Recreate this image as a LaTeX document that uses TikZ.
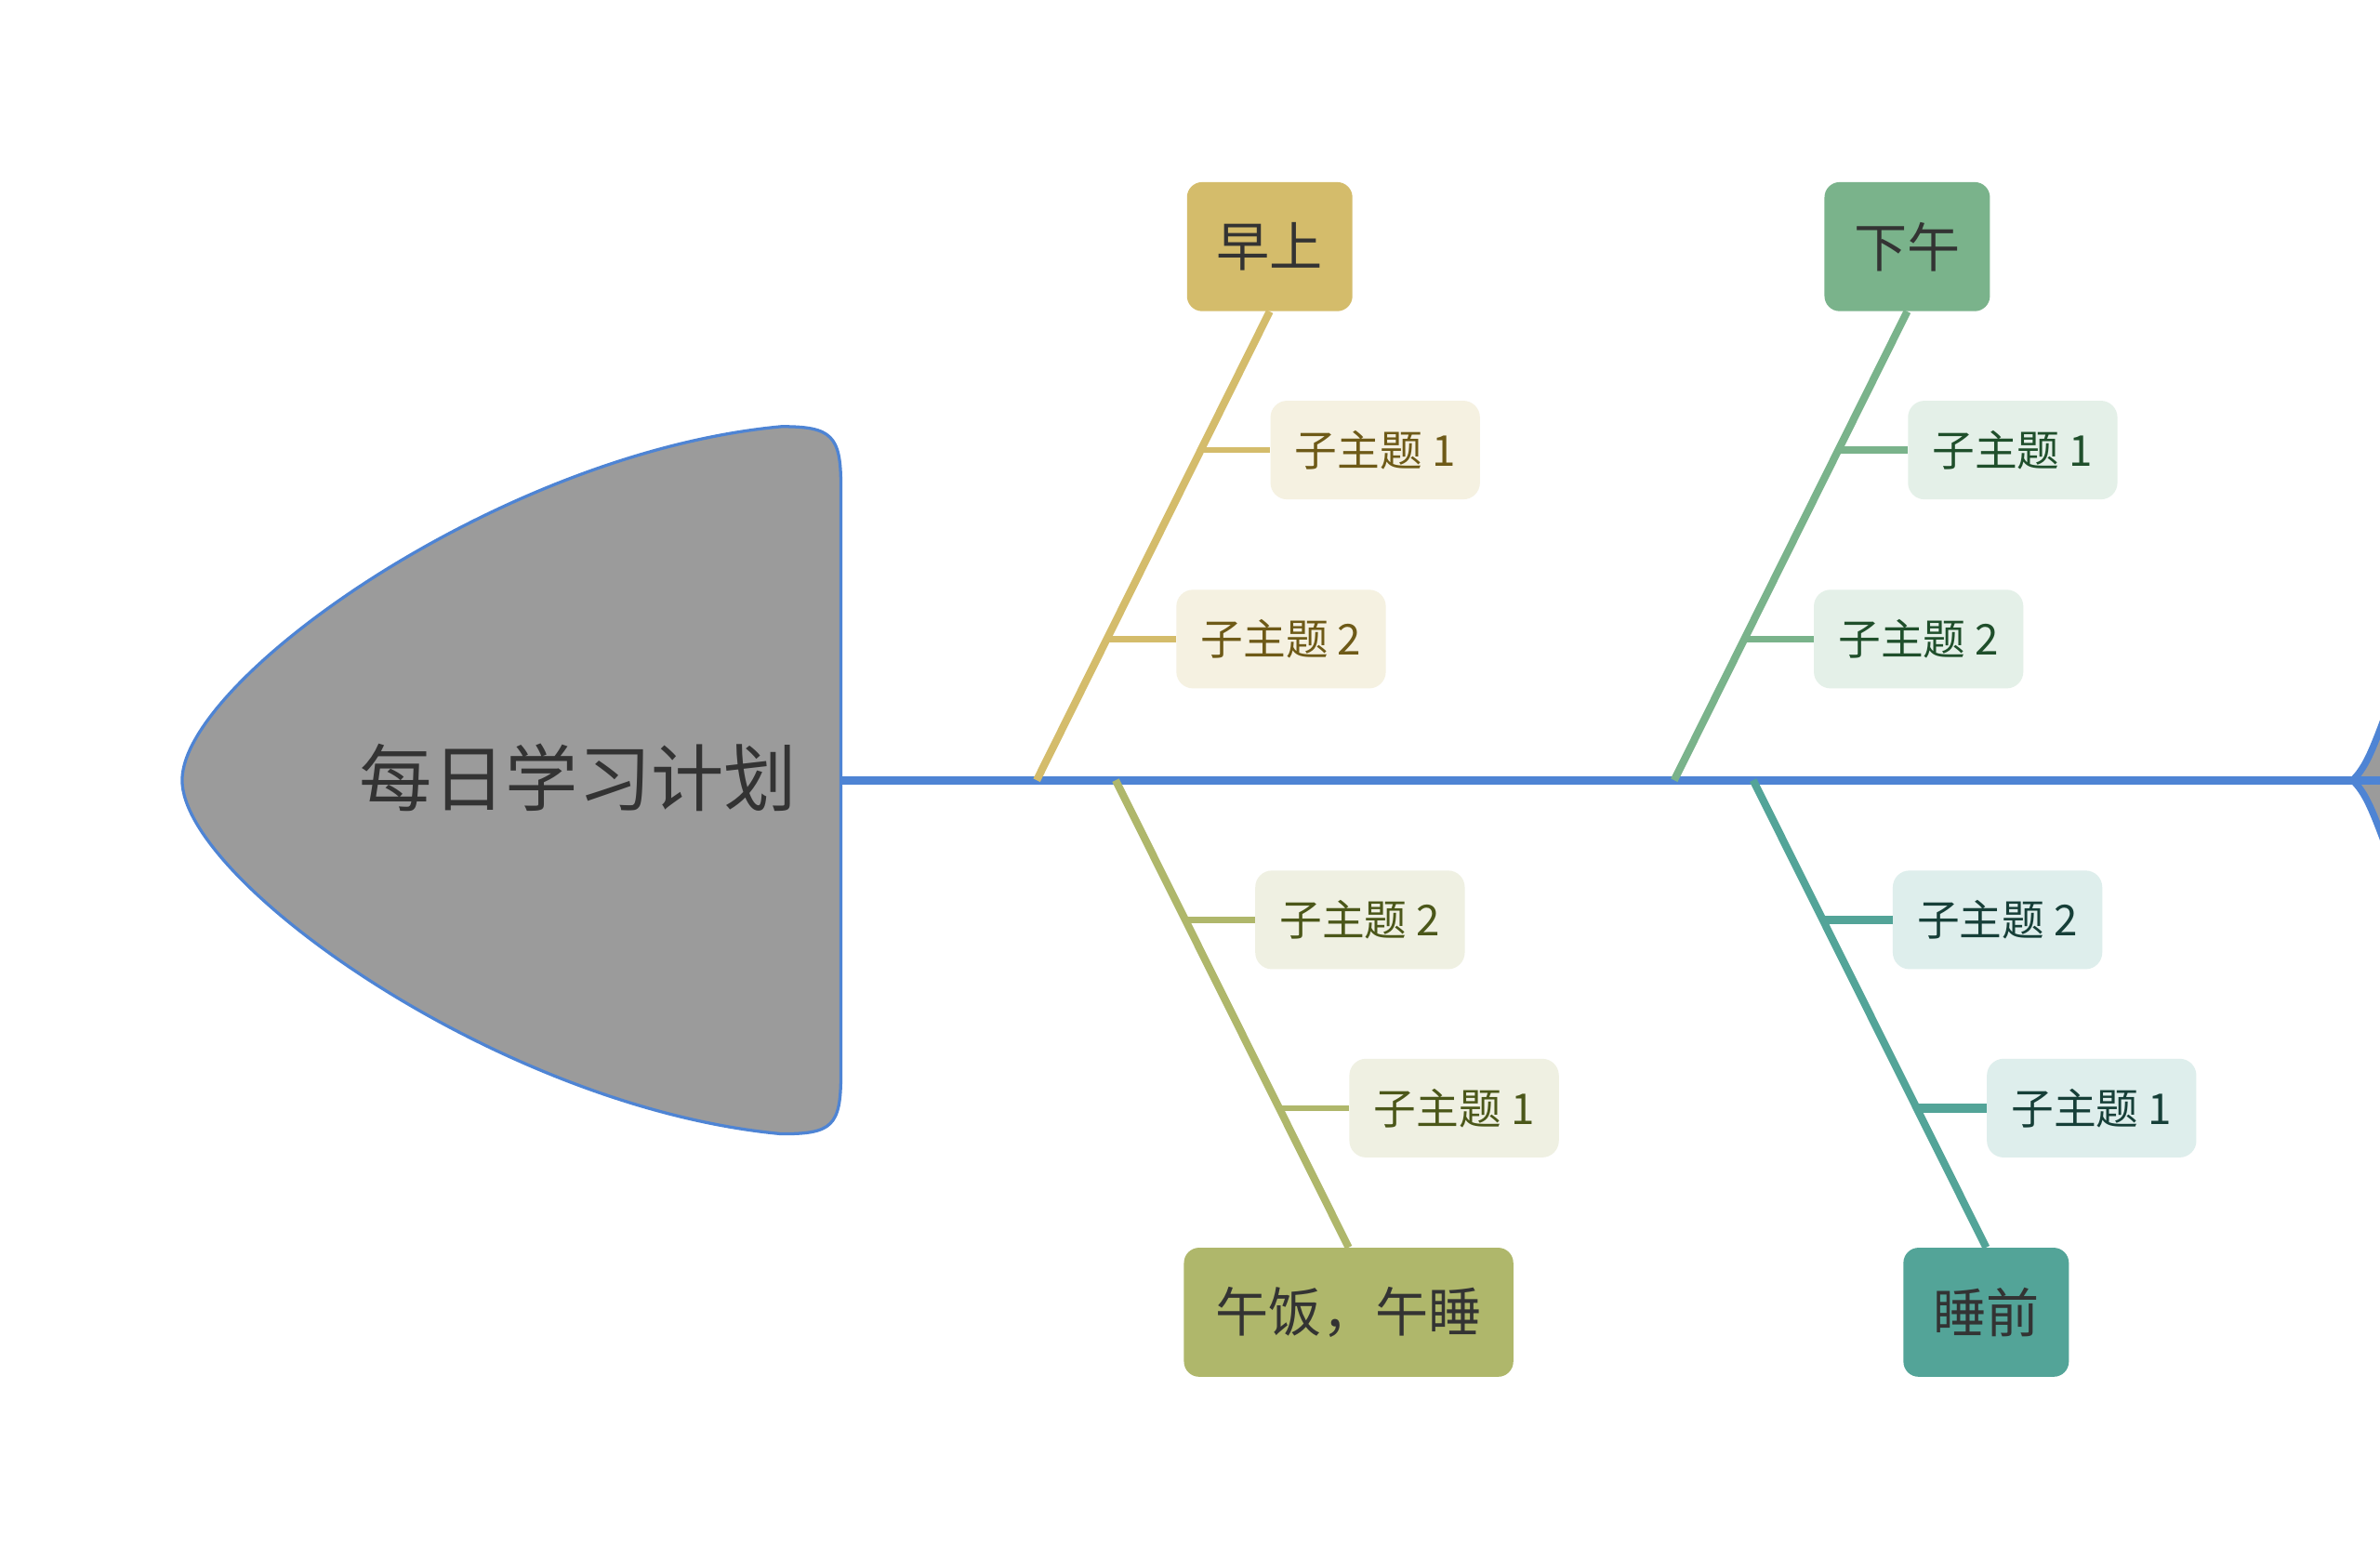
\documentclass[tikz,border=0pt]{standalone}
\usepackage{fontspec}
\setmainfont{Noto Sans CJK SC}
\usetikzlibrary{calc}

\definecolor{spineblue}{HTML}{4E84D4}
\definecolor{headgray}{HTML}{9B9B9B}
\definecolor{maintext}{HTML}{333333}
\definecolor{goldmain}{HTML}{D4BC6B}
\definecolor{goldsub}{HTML}{F5F1E1}
\definecolor{goldtext}{HTML}{6E5A17}
\definecolor{olivemain}{HTML}{AFB76B}
\definecolor{olivesub}{HTML}{EFF0E2}
\definecolor{olivetext}{HTML}{4B5719}
\definecolor{greenmain}{HTML}{7AB38B}
\definecolor{greensub}{HTML}{E4F0E8}
\definecolor{greentext}{HTML}{1F4F2B}
\definecolor{tealmain}{HTML}{53A498}
\definecolor{tealsub}{HTML}{DEEEEC}
\definecolor{tealtext}{HTML}{163F38}

\begin{document}
\begin{tikzpicture}[x=1pt,y=-1pt,
    mainbox/.style={rounded corners=10pt, minimum height=85pt, inner sep=0pt,
      text=maintext, font=\fontsize{35}{40}\selectfont},
    subbox/.style={rounded corners=11pt, minimum width=138pt, minimum height=65pt,
      inner sep=0pt, font=\fontsize{28}{34}\selectfont},
    spine/.style={draw=spineblue, line width=5.5pt},
    bone/.style={line width=5pt},
    twig/.style={line width=4pt}]
  \fill[white] (0,0) rectangle (1568,1028);
  \useasboundingbox (0,0) rectangle (1568,1028);

  % head of the fish
  \filldraw[fill=headgray, draw=spineblue, line width=2pt]
    (554,320) -- (554,708) .. controls (554,742) and (548,747) .. (515,747)
    .. controls (330,730) and (120,580) .. (120,514)
    .. controls (120,448) and (330,298) .. (515,281)
    .. controls (548,281) and (554,287) .. (554,320) -- cycle;
  \node[text=maintext, font=\fontsize{48}{54}\selectfont] (title) at (381,512) {每日学习计划};

  % tail, cut by the right edge
  \coordinate (head) at (554,514);
  \coordinate (tail) at (1550,514);
  \coordinate (tailend) at (1568,514);
  \begin{scope}
    \clip (0,0) rectangle (1568,1028);
    \filldraw[fill=headgray, draw=spineblue, line width=4.5pt, line join=round]
      (tail) .. controls (1558,506) and (1562,497) .. (1572,470) -- (1600,470)
      -- (1600,558) -- (1572,558) .. controls (1562,531) and (1558,522) .. (tail);
    \draw[spine] (head) -- (tailend);
  \end{scope}

  % feet of the bones on the spine
  \coordinate (b1) at (683,514);
  \coordinate (b2) at (735,514);
  \coordinate (b3) at (1103,514);
  \coordinate (b4) at (1155,514);

  % main topics
  \node[mainbox, fill=goldmain, minimum width=109pt] (zs) at (836.5,162.5) {早上};
  \node[mainbox, fill=olivemain, minimum width=217pt] (wf) at (888.5,864.5) {午饭，午睡};
  \node[mainbox, fill=greenmain, minimum width=109pt] (xw) at (1256.5,162.5) {下午};
  \node[mainbox, fill=tealmain, minimum width=109pt] (sq) at (1308.5,864.5) {睡前};

  % sub topics
  \node[subbox, fill=goldsub, text=goldtext] (zs1) at (906,296.5) {子主题 1};
  \node[subbox, fill=goldsub, text=goldtext] (zs2) at (844,421) {子主题 2};
  \node[subbox, fill=olivesub, text=olivetext] (wf2) at (896,606) {子主题 2};
  \node[subbox, fill=olivesub, text=olivetext] (wf1) at (958,730) {子主题 1};
  \node[subbox, fill=greensub, text=greentext] (xw1) at (1326,296.5) {子主题 1};
  \node[subbox, fill=greensub, text=greentext] (xw2) at (1264,421) {子主题 2};
  \node[subbox, fill=tealsub, text=tealtext] (sq2) at (1316,606) {子主题 2};
  \node[subbox, fill=tealsub, text=tealtext] (sq1) at (1378,730) {子主题 1};

  % bones
  \draw[bone, goldmain] (b1) -- (zs.south);
  \draw[bone, olivemain] (b2) -- (wf.north);
  \draw[bone, greenmain] (b3) -- (xw.south);
  \draw[bone, tealmain] (b4) -- (sq.north);

  % twigs
  \coordinate (zt1) at ($(b1)!0.704!(zs.south)$);
  \coordinate (zt2) at ($(b1)!0.301!(zs.south)$);
  \coordinate (wt2) at ($(b2)!0.299!(wf.north)$);
  \coordinate (wt1) at ($(b2)!0.701!(wf.north)$);
  \coordinate (xt1) at ($(b3)!0.704!(xw.south)$);
  \coordinate (xt2) at ($(b3)!0.301!(xw.south)$);
  \coordinate (st2) at ($(b4)!0.299!(sq.north)$);
  \coordinate (st1) at ($(b4)!0.701!(sq.north)$);
  \draw[twig, goldmain] (zt1 |- zs1.west) -- (zs1.west);
  \draw[twig, goldmain] (zt2 |- zs2.west) -- (zs2.west);
  \draw[twig, olivemain] (wt2 |- wf2.west) -- (wf2.west);
  \draw[twig, olivemain] (wt1 |- wf1.west) -- (wf1.west);
  \draw[twig, greenmain, line width=4.5pt] (xt1 |- xw1.west) -- (xw1.west);
  \draw[twig, greenmain, line width=4.5pt] (xt2 |- xw2.west) -- (xw2.west);
  \draw[twig, tealmain, line width=6pt] (st2 |- sq2.west) -- (sq2.west);
  \draw[twig, tealmain, line width=6pt] (st1 |- sq1.west) -- (sq1.west);
\end{tikzpicture}
\end{document}
